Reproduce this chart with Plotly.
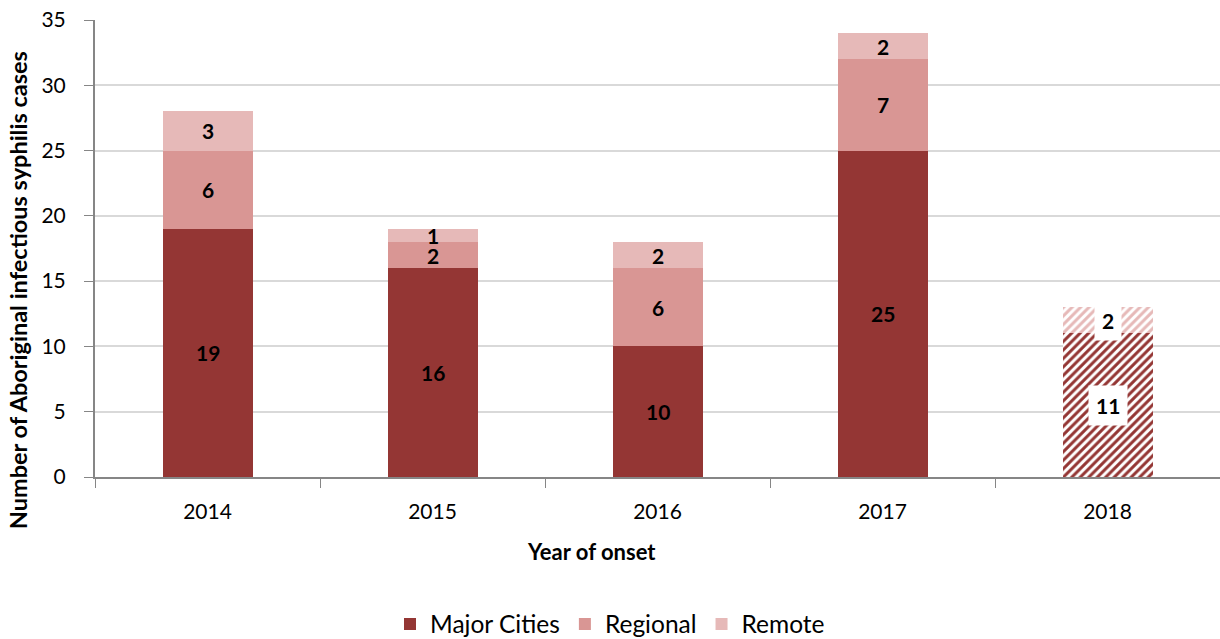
import plotly.graph_objects as go

years = ["2014", "2015", "2016", "2017", "2018"]
major = [19, 16, 10, 25, 11]
regional = [6, 2, 6, 7, 0]
remote = [3, 1, 2, 2, 2]
provisional = [False, False, False, False, True]

c_major = "#943634"
c_regional = "#D99694"
c_remote = "#E6B9B8"
FONT = "Lato"

fig = go.Figure()

def add_series(name, vals, color):
    fig.add_trace(go.Bar(
        x=years, y=vals, name=name,
        marker=dict(
            color=color,
            line=dict(width=0),
            pattern=dict(
                shape=["/" if p else "" for p in provisional],
                fgcolor=[color] * len(vals), bgcolor=["white"] * len(vals),
                size=6, solidity=0.5, fillmode="replace",
            ),
        ),
        width=0.4,
        hoverinfo="skip",
    ))

add_series("Major Cities", major, c_major)
add_series("Regional", regional, c_regional)
add_series("Remote", remote, c_remote)

# Data labels (x given as category index)
for i, yr in enumerate(years):
    base = 0
    for vals in (major, regional, remote):
        v = vals[i]
        if v > 0:
            fig.add_annotation(
                x=i, y=base + v / 2, text=f"<b>{v}</b>", showarrow=False,
                font=dict(family=FONT, size=21, color="black"),
                bgcolor="white" if provisional[i] else "rgba(0,0,0,0)",
                borderpad=7,
            )
        base += v

# Axis titles (centred on the chart area, as in the original)
fig.add_annotation(
    xref="paper", yref="paper", x=-0.0684, y=0.409,
    text="<b>Number of Aboriginal infectious syphilis cases</b>",
    textangle=-90, showarrow=False, xanchor="center", yanchor="middle",
    font=dict(family=FONT, size=23.5, color="black"),
)
fig.add_annotation(
    xref="paper", yref="paper", x=0.441, y=-0.162,
    text="<b>Year of onset</b>", showarrow=False,
    xanchor="center", yanchor="middle",
    font=dict(family=FONT, size=22, color="black"),
)

fig.update_layout(
    barmode="stack",
    width=1220, height=639,
    margin=dict(l=95, r=0, t=20, b=162),
    plot_bgcolor="white", paper_bgcolor="white",
    font=dict(family=FONT, size=20, color="black"),
    legend=dict(orientation="h", xref="container", yref="container",
                x=0.5, xanchor="center", y=0.0235, yanchor="middle",
                font=dict(size=24.5), traceorder="normal", itemwidth=30),
    xaxis=dict(
        type="category",
        showline=True, linecolor="#868686", linewidth=2,
        ticks="outside", tickson="boundaries", ticklen=9, tickcolor="#868686",
        tickfont=dict(size=21), ticklabelstandoff=15,
    ),
    yaxis=dict(
        range=[0, 35], dtick=5, showline=True, linecolor="#868686", linewidth=2,
        ticks="outside", ticklen=9, tickcolor="#868686",
        showgrid=True, gridcolor="#D9D9D9", gridwidth=1.5,
        tickfont=dict(size=21), zeroline=False, ticklabelstandoff=14,
    ),
)

fig.write_html("out.html", config={"displayModeBar": False},
               post_script="document.body.style.margin='0';")
